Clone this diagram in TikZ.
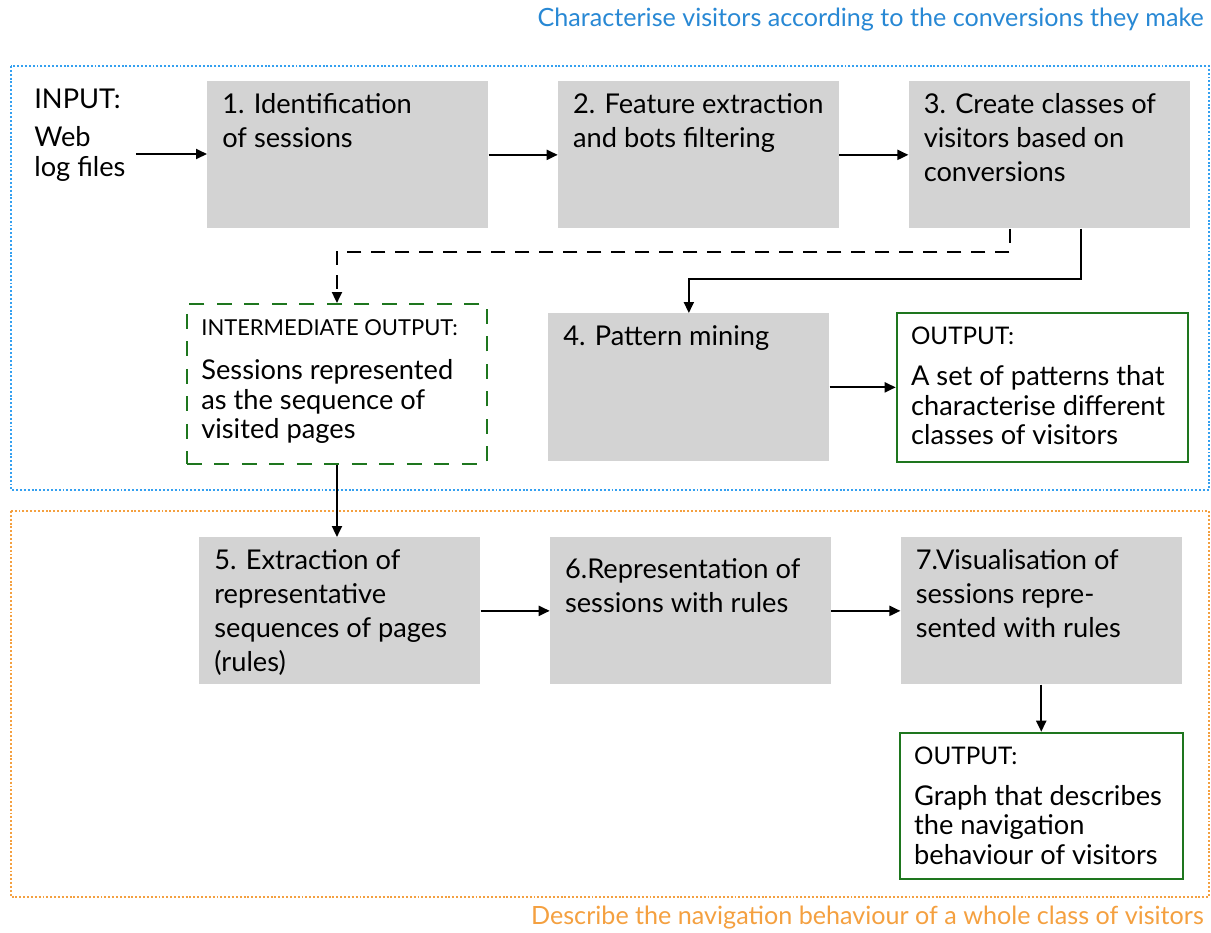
\documentclass[tikz,border=0pt]{standalone}
\usepackage{fontspec}
\setmainfont{Lato}
\usetikzlibrary{arrows.meta,positioning}

\definecolor{boxgray}{RGB}{211,211,211}
\definecolor{outgreen}{RGB}{30,118,30}
\definecolor{topblue}{RGB}{40,136,212}
\definecolor{dotblue}{RGB}{52,160,240}
\definecolor{botorange}{RGB}{244,160,64}

\begin{document}
\begin{tikzpicture}[
    font=\fontsize{15.5}{19.3}\selectfont,
    node distance=1.38cm,
    box/.style={
        fill=boxgray,
        inner sep=0pt,
        minimum width=5.62cm,
        minimum height=2.94cm
    },
    outbox/.style={
        box,
        fill=white,
        draw=outgreen,
        line width=1.1pt
    },
    midbox/.style={
        outbox,
        dash pattern=on 0.3cm off 0.25cm
    },
    txt/.style={
        anchor=north west,
        align=left,
        inner xsep=0.3cm,
        inner ysep=0.24cm
    },
    outtxt/.style={
        txt,
        inner ysep=0.36cm,
        font=\fontsize{15.5}{17}\selectfont
    },
    frame/.style={
        line width=1.3pt,
        dash pattern=on 1.1pt off 1.1pt
    },
    arrow/.style={
        -{Triangle[length=2.2mm,width=2mm]},
        line width=1.1pt
    },
    dasharrow/.style={
        arrow,
        dash pattern=on 0.28cm off 0.2cm
    }
]

\useasboundingbox (0,0) rectangle (24.22,-18.64);

% the two stages
\draw[frame, draw=dotblue] (0.22,-1.32) rectangle (24.18,-9.80);
\draw[frame, draw=botorange] (0.22,-10.22) rectangle (24.18,-17.94);

\node[anchor=east, text=topblue, font=\fontsize{14.3}{17}\selectfont] (toptitle) at (24.20,-0.40)
    {Characterise visitors according to the conversions they make};
\node[anchor=east, text=botorange, font=\fontsize{14.3}{17}\selectfont] (bottitle) at (24.20,-18.36)
    {Describe the navigation behaviour of a whole class of visitors};

\node[anchor=north west, inner sep=0pt] (inlbl) at (0.68,-1.78) {INPUT:};
\node[anchor=west, align=left, inner sep=0pt, font=\fontsize{15.5}{17}\selectfont] (weblog) at (0.68,-3.08)
    {Web\\log files};

\node[box, anchor=north west, label={[txt]north west:{1. Identification\\of sessions}}] (s1) at (4.14,-1.62) {};
\node[box, right=of s1, label={[txt]north west:{2. Feature extraction\\and bots filtering}}] (s2) {};
\node[box, right=of s2, label={[txt]north west:{3. Create classes of\\visitors based on\\conversions}}] (s3) {};

\node[midbox, anchor=north west, minimum width=6cm, minimum height=3.2cm,
    label={[outtxt, inner ysep=0.32cm]north west:{{\fontsize{12.5}{14}\selectfont INTERMEDIATE OUTPUT:}\\[8pt]Sessions represented\\as the sequence of\\visited pages}}] (inter) at (3.72,-6.06) {};

\node[box, anchor=north west, minimum height=2.96cm, label={[txt]north west:{4. Pattern mining}}] (s4) at (10.96,-6.26) {};
\node[outbox, right=1.32cm of s4, minimum width=5.82cm, minimum height=2.98cm,
    label={[outtxt, inner ysep=0.3cm]north west:{{\fontsize{13.8}{15}\selectfont OUTPUT:}\\[6pt]A set of patterns that\\characterise different\\classes of visitors}}] (out1) {};

\node[box, anchor=north west, label={[txt]north west:{5. Extraction of\\representative\\sequences of pages\\(rules)}}] (s5) at (3.98,-10.74) {};
\node[box, right=of s5, label={[txt, yshift=-0.18cm]north west:{6.Representation of\\sessions with rules}}] (s6) {};
\node[box, right=of s6, label={[txt]north west:{7.Visualisation of\\sessions repre-\\sented with rules}}] (s7) {};

\node[outbox, below=0.94cm of s7, minimum width=5.66cm, minimum height=2.92cm,
    label={[outtxt, inner ysep=0.3cm]north west:{{\fontsize{13.8}{15}\selectfont OUTPUT:}\\[6pt]Graph that describes\\the navigation\\behaviour of visitors}}] (out2) {};

\draw[arrow] ([xshift=0.2cm]weblog.east) -- (weblog.east -| s1.west);
\draw[arrow] (s1) -- (s2);
\draw[arrow] (s2) -- (s3);
\draw[dasharrow] ([xshift=-0.78cm]s3.south) -- ++(0,-0.46) -| (inter.north);
\draw[arrow] ([xshift=0.64cm]s3.south) -- ++(0,-1.0) -| (s4.north);
\draw[arrow] (s4) -- (out1);
\draw[arrow] (inter.south) -- (inter.south |- s5.north);
\draw[arrow] (s5) -- (s6);
\draw[arrow] (s6) -- (s7);
\draw[arrow] (s7) -- (out2);

\end{tikzpicture}
\end{document}
